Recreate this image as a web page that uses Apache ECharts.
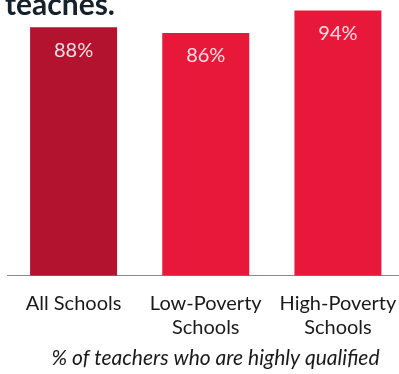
<!DOCTYPE html>
<html><head><meta charset="utf-8">
<script src="https://cdn.jsdelivr.net/npm/echarts@6/dist/echarts.min.js"></script>
<style>html,body{margin:0;padding:0;background:#fff;overflow:hidden}#c{width:404px;height:374px}</style>
</head><body><div id="c"></div>
<script>
const categories = ['All Schools', 'Low-Poverty\nSchools', 'High-Poverty\nSchools'];
const values = [88, 86, 94];
const barColors = ['#b3132e', '#e8183a', '#e8183a'];
const titleText = 'teaches.';
const subtitleText = '% of teachers who are highly qualified';

const chart = echarts.init(document.getElementById('c'));
chart.setOption({
  animation: false,
  backgroundColor: '#ffffff',
  grid: { left: 7.5, right: 0, top: 0, bottom: 98.5, containLabel: false },
  xAxis: {
    type: 'category',
    data: categories,
    axisLine: { lineStyle: { color: '#8a8a8a', width: 1 } },
    axisTick: { show: false },
    axisLabel: { margin: 16, fontFamily: 'Lato', fontSize: 20, lineHeight: 24, color: '#1a1a1a', interval: 0 }
  },
  yAxis: { type: 'value', min: 0, max: 97.7, show: false, splitLine: { show: false } },
  series: [{
    type: 'bar',
    barWidth: 87,
    data: values.map((v, i) => ({ value: v, itemStyle: { color: barColors[i] } })),
    label: {
      show: true, position: 'insideTop', distance: 13,
      formatter: '{c}%', fontFamily: 'Lato', fontSize: 20, color: '#f6dfe2'
    }
  }],
  graphic: [
    { type: 'text', x: 5, y: -10, style: { text: titleText, font: 'bold 30px Lato', fill: '#17212b' } },
    { type: 'text', x: 215.5, y: 348, style: { text: subtitleText, font: 'italic 21px Lato', fill: '#1a1a1a', textAlign: 'center' } }
  ]
});
</script></body></html>
